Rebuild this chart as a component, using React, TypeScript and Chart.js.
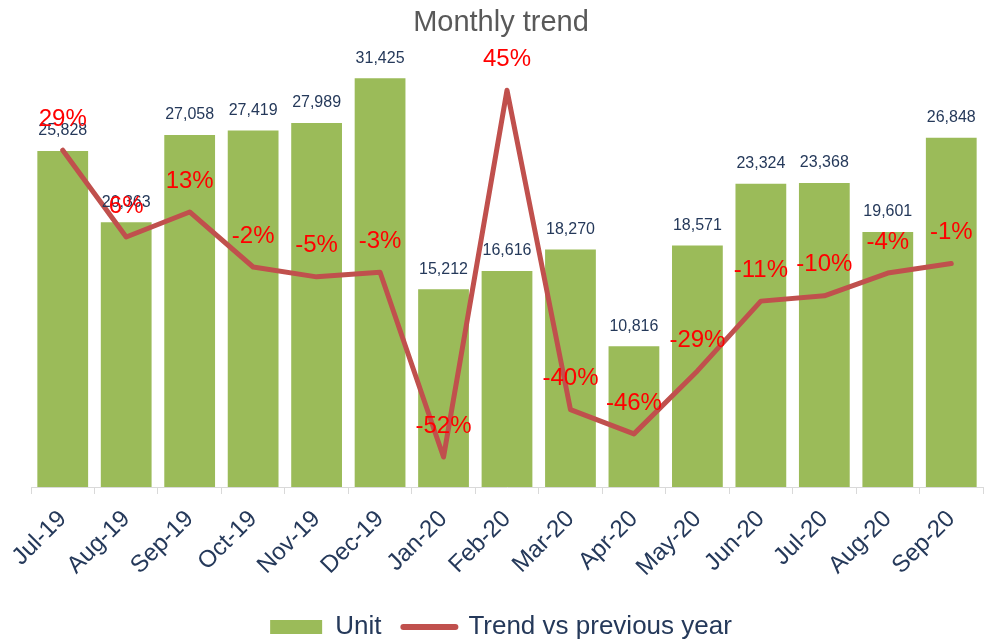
import React, { useEffect, useRef } from "react";
import { Chart, registerables } from "chart.js";

Chart.register(...registerables);

const months = ["Jul-19", "Aug-19", "Sep-19", "Oct-19", "Nov-19", "Dec-19", "Jan-20", "Feb-20", "Mar-20", "Apr-20", "May-20", "Jun-20", "Jul-20", "Aug-20", "Sep-20"];
const units = [25828, 20363, 27058, 27419, 27989, 31425, 15212, 16616, 18270, 10816, 18571, 23324, 23368, 19601, 26848];
const trend = [0.288, 0.059, 0.125, -0.02, -0.046, -0.034, -0.521, 0.446, -0.396, -0.46, -0.294, -0.11, -0.096, -0.036, -0.011];

const FONT = "'Liberation Sans', Arial, sans-serif";
const NAVY = "#25395A";

const labelPlugin = {
  id: "valueLabels",
  afterDatasetsDraw(chart: any) {
    const ctx = chart.ctx;
    ctx.save();
    ctx.textAlign = "center";
    ctx.textBaseline = "middle";
    const barMeta = chart.getDatasetMeta(0);
    ctx.font = `16px ${FONT}`;
    ctx.fillStyle = NAVY;
    barMeta.data.forEach((el: any, i: number) => {
      ctx.fillText(units[i].toLocaleString("en-US"), el.x, el.y - 20);
    });
    const lineMeta = chart.getDatasetMeta(1);
    ctx.font = `24px ${FONT}`;
    ctx.fillStyle = "#FF0000";
    lineMeta.data.forEach((el: any, i: number) => {
      ctx.fillText(Math.round(trend[i] * 100) + "%", el.x, el.y - 31);
    });
    ctx.restore();
  },
};

export default function App() {
  const ref = useRef<HTMLCanvasElement>(null);
  useEffect(() => {
    if (!ref.current) return;
    const chart = new Chart(ref.current, {
      type: "bar",
      data: {
        labels: months,
        datasets: [
          {
            type: "bar",
            label: "Unit",
            data: units,
            backgroundColor: "#9BBB59",
            borderWidth: 0,
            barPercentage: 0.8,
            categoryPercentage: 1,
            yAxisID: "y",
            order: 2,
          } as any,
          {
            type: "line",
            label: "Trend vs previous year",
            data: trend,
            borderColor: "#C0504D",
            backgroundColor: "#C0504D",
            borderWidth: 5,
            borderCapStyle: "round",
            borderJoinStyle: "round",
            pointRadius: 0,
            tension: 0,
            yAxisID: "y2",
            order: 1,
          } as any,
        ],
      },
      options: {
        responsive: false,
        animation: false,
        layout: { padding: { left: 19, right: 1, top: 0, bottom: -9 } },
        plugins: {
          title: {
            display: true,
            text: "Monthly trend",
            color: "#595959",
            font: { family: FONT, size: 29, weight: "normal" },
            padding: { top: 6, bottom: -9 },
          },
          legend: {
            position: "bottom",
            labels: {
              usePointStyle: true,
              pointStyleWidth: 52,
              boxHeight: 14,
              padding: 22,
              color: NAVY,
              font: { family: FONT, size: 26 },
              sort: (a: any, b: any) => a.datasetIndex - b.datasetIndex,
              generateLabels(chart: any) {
                const items = Chart.defaults.plugins.legend.labels.generateLabels(chart);
                items.forEach((it: any) => {
                  if (it.datasetIndex === 1) {
                    it.pointStyle = "line";
                    it.lineWidth = 6;
                    it.lineCap = "round";
                    it.strokeStyle = "#C0504D";
                  } else {
                    it.pointStyle = "rect";
                    it.lineWidth = 0;
                  }
                });
                return items;
              },
            },
          },
          tooltip: { enabled: false },
        },
        scales: {
          x: {
            grid: {
              display: true,
              drawOnChartArea: false,
              drawTicks: true,
              tickLength: 7,
              color: "#D9D9D9",
              offset: true,
            },
            border: { display: true, color: "#D9D9D9", width: 1 },
            ticks: {
              maxRotation: 45,
              minRotation: 45,
              color: NAVY,
              font: { family: FONT, size: 24 },
              padding: 11,
            },
            afterFit(scale: any) {
              scale.height = 105;
              scale.paddingLeft = 31;
            },
          },
          y: { display: false, min: 0, max: 35000 },
          y2: { display: false, min: -0.6, max: 0.6, position: "right" },
        },
      },
      plugins: [labelPlugin],
    });
    return () => chart.destroy();
  }, []);
  return (
    <div style={{ position: "absolute", left: 0, top: 0, width: 984, height: 641, background: "#fff" }}>
      <canvas ref={ref} width={984} height={641} />
    </div>
  );
}
